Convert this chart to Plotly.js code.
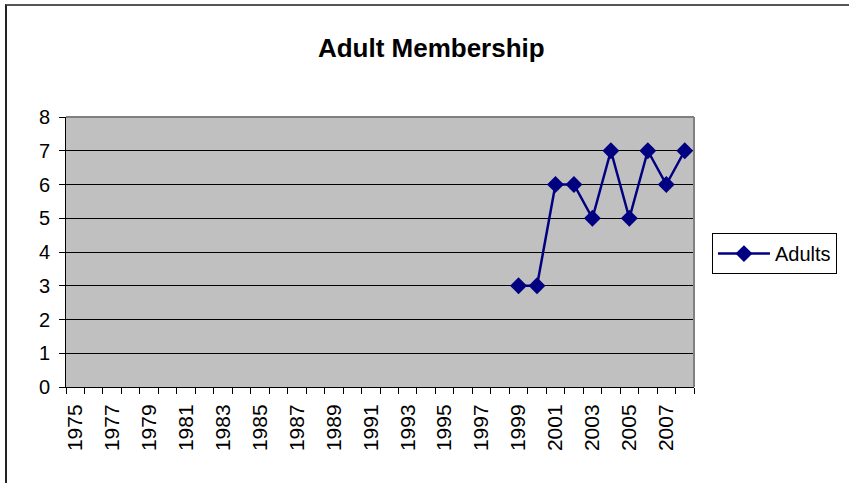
<!DOCTYPE html>
<html>
<head>
<meta charset="utf-8">
<script src="https://cdn.plot.ly/plotly-3.0.1.min.js"></script>
<style>
  html, body { margin: 0; padding: 0; background: #fff; overflow: hidden; }
  #plot { width: 849px; height: 483px; }
  #frame {
    position: absolute; left: 5px; top: 4px; width: 900px; height: 600px;
    border-left: 2px solid #222; border-top: 2px solid #555;
    pointer-events: none;
  }
</style>
</head>
<body>
<div id="plot"></div>
<div id="frame"></div>
<script>
// category span of the x axis (Excel category axis, one slot per year)
const firstYear = 1975;
const lastYear = 2008;

// series
const years = [1999, 2000, 2001, 2002, 2003, 2004, 2005, 2006, 2007, 2008];
const adults = [3, 3, 6, 6, 5, 7, 5, 7, 6, 7];

// every other year gets a label
const tickYears = [1975, 1977, 1979, 1981, 1983, 1985, 1987, 1989, 1991,
  1993, 1995, 1997, 1999, 2001, 2003, 2005, 2007];
const tickLabels = tickYears.map(String);

const FONT = '"Liberation Sans", Arial, sans-serif';
const NAVY = '#000080';

const trace = {
  x: years,
  y: adults,
  type: 'scatter',
  mode: 'lines+markers',
  name: 'Adults',
  line: { color: NAVY, width: 2.5 },
  marker: { symbol: 'diamond', size: 13, color: NAVY }
};

const layout = {
  width: 849,
  height: 483,
  font: { family: FONT, size: 20, color: '#000' },
  paper_bgcolor: '#ffffff',
  plot_bgcolor: '#c0c0c0',
  margin: { l: 66, r: 153, t: 117, b: 96 },
  title: {
    text: '<b>Adult Membership</b>',
    font: { family: FONT, size: 26, color: '#000' },
    xref: 'container', x: 0.508, xanchor: 'center',
    yref: 'container', y: 0.9, yanchor: 'middle'
  },
  showlegend: true,
  legend: {
    x: 1.0286, xanchor: 'left',
    y: 0.57, yanchor: 'top',
    bordercolor: '#000', borderwidth: 1,
    bgcolor: '#ffffff',
    itemwidth: 52,
    font: { family: FONT, size: 20, color: '#000' }
  },
  xaxis: {
    range: [firstYear - 0.5, lastYear + 0.5],
    tickmode: 'array',
    tickvals: tickYears,
    ticktext: tickLabels,
    tickangle: -90,
    ticks: '',
    ticklabelstandoff: 8,
    showgrid: false,
    zeroline: false,
    showline: true,
    linecolor: '#000',
    linewidth: 1,
    tickfont: { family: FONT, size: 21, color: '#000' },
    minor: {
      tick0: firstYear - 0.5,
      dtick: 1,
      ticks: 'outside',
      ticklen: 6,
      tickcolor: '#000',
      tickwidth: 1,
      showgrid: false
    }
  },
  yaxis: {
    range: [0, 8],
    tickmode: 'linear',
    tick0: 0,
    dtick: 1,
    ticks: 'outside',
    ticklen: 6,
    tickcolor: '#000',
    ticklabelstandoff: 5,
    showgrid: true,
    gridcolor: '#000',
    gridwidth: 1,
    zeroline: false,
    showline: true,
    linecolor: '#000',
    linewidth: 1,
    tickfont: { family: FONT, size: 20, color: '#000' }
  },
  shapes: [
    // grey plot-area edge on top and right, as in the source
    { type: 'line', xref: 'paper', yref: 'paper', x0: 0, x1: 1, y0: 1, y1: 1,
      line: { color: '#808080', width: 2 } },
    { type: 'line', xref: 'paper', yref: 'paper', x0: 1, x1: 1, y0: 0, y1: 1,
      line: { color: '#808080', width: 2 } }
  ]
};

Plotly.newPlot('plot', [trace], layout, { displayModeBar: false, staticPlot: true });
</script>
</body>
</html>
